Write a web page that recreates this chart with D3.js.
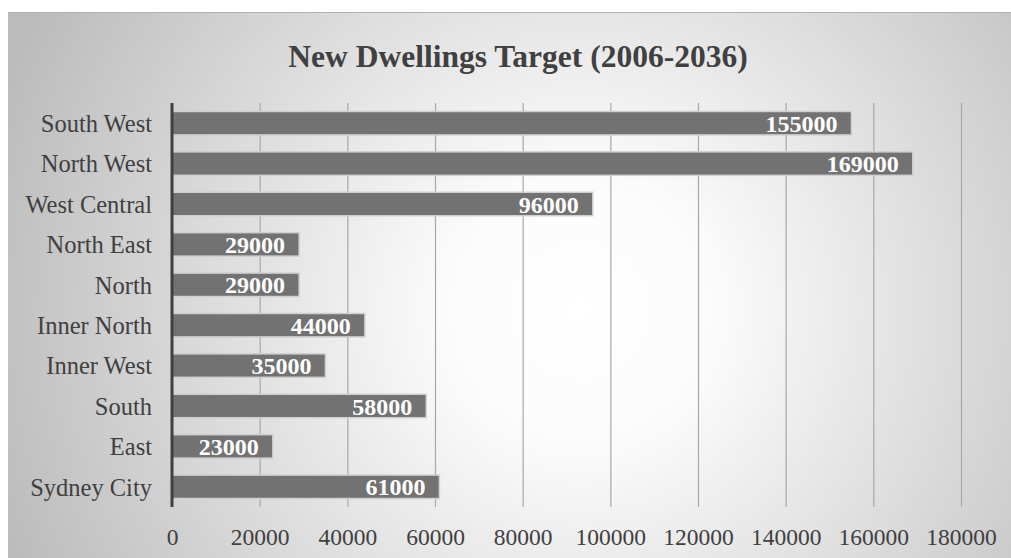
<!DOCTYPE html>
<html><head><meta charset="utf-8">
<script src="https://cdn.jsdelivr.net/npm/d3@7"></script>
<style>body{margin:0;background:#fff;}svg{display:block;} text{font-family:'Liberation Serif','Times New Roman',serif;}</style>
</head><body>
<script>
const categories = ["South West","North West","West Central","North East","North","Inner North","Inner West","South","East","Sydney City"];
const values = [155000,169000,96000,29000,29000,44000,35000,58000,23000,61000];
const tickValues = [0,20000,40000,60000,80000,100000,120000,140000,160000,180000];
const title = "New Dwellings Target (2006-2036)";

const W = 1011, H = 558;
const svg = d3.select("body").append("svg").attr("width", W).attr("height", H);
const defs = svg.append("defs");
const rg = defs.append("radialGradient").attr("id","bg").attr("gradientUnits","userSpaceOnUse")
  .attr("cx",580).attr("cy",310).attr("r",620);
rg.append("stop").attr("offset","0%").attr("stop-color","#ffffff");
rg.append("stop").attr("offset","22%").attr("stop-color","#fbfbfb");
rg.append("stop").attr("offset","100%").attr("stop-color","#bbbbbb");

svg.append("rect").attr("x",8).attr("y",12).attr("width",W-8).attr("height",H-12).attr("fill","url(#bg)");
svg.append("line").attr("x1",8).attr("x2",W).attr("y1",12.5).attr("y2",12.5).attr("stroke","#b0b0b0").attr("stroke-width",1);

const x = d3.scaleLinear().domain([0,180000]).range([172,961]);
const y = d3.scaleBand().domain(categories).range([103,507]).paddingInner(0.42).paddingOuter(0.21);

svg.append("g").selectAll("line").data(tickValues.slice(1)).join("line")
  .attr("x1",d=>x(d)+0.5).attr("x2",d=>x(d)+0.5).attr("y1",103).attr("y2",507)
  .attr("stroke","#a8a8a8").attr("stroke-width",1.2);

svg.append("g").selectAll("rect").data(values).join("rect")
  .attr("x",x(0)).attr("y",(d,i)=>y(categories[i]))
  .attr("width",d=>x(d)-x(0)).attr("height",y.bandwidth())
  .attr("fill","#727272").attr("stroke","#cfcfcf").attr("stroke-width",1.5);

svg.append("g").selectAll("text").data(values).join("text")
  .attr("x",d=>x(d)-14).attr("y",(d,i)=>y(categories[i])+y.bandwidth()/2)
  .attr("dy","0.36em").attr("text-anchor","end")
  .attr("font-weight","bold")
  .attr("font-size",24).attr("fill","#ffffff").text(d=>d);

svg.append("line").attr("x1",172).attr("x2",172).attr("y1",103).attr("y2",507)
  .attr("stroke","#404040").attr("stroke-width",3);

svg.append("g").selectAll("text").data(categories).join("text")
  .attr("x",152).attr("y",d=>y(d)+y.bandwidth()/2).attr("dy","0.36em").attr("text-anchor","end")
  .attr("font-size",24.5).attr("fill","#404040").text(d=>d);

const xAxis = d3.axisBottom(x).tickValues(tickValues).tickSize(0).tickPadding(0).tickFormat(d3.format("d"));
const gx = svg.append("g").attr("transform","translate(0,533)").call(xAxis);
gx.select(".domain").remove();
gx.selectAll("text").attr("font-family",null).attr("font-size",23.5).attr("fill","#404040").attr("dy","0.5em");

svg.append("text").attr("x",518).attr("y",67).attr("text-anchor","middle")
  .attr("font-weight","bold")
  .attr("font-size",31.5).attr("fill","#404040").text(title);
</script>
</body></html>
